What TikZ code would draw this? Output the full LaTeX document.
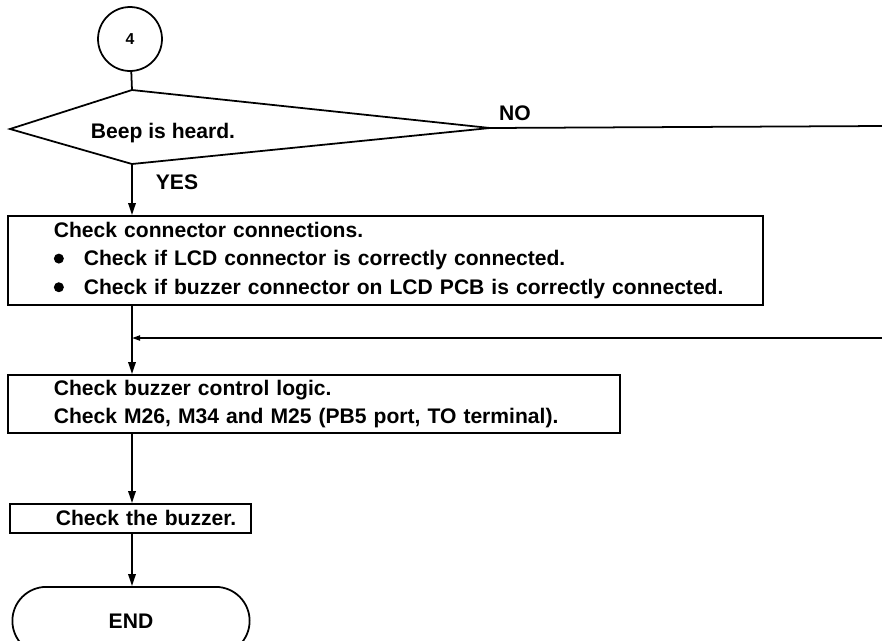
\documentclass[tikz,border=0pt]{standalone}
\usepackage{fontspec}
\setmainfont{Liberation Sans}
\usetikzlibrary{arrows.meta,shapes.misc}
\newcommand{\dotmark}{\makebox[0.6cm][l]{\raisebox{0.2ex}{\tikz\fill (0,0) circle (0.1cm);}}}
\newcommand{\lead}{\hspace*{0.67cm}}
\begin{document}
\begin{tikzpicture}[
        x=0.02cm, y=-0.02cm,
        every node/.style={font=\fontsize{12}{16.3}\selectfont\bfseries},
        link/.style={-{Triangle[length=0.24cm,width=0.15cm]}, line width=1pt},
        plain/.style={line width=1pt},
        stepbox/.style={draw, line width=1pt, rectangle, align=left, inner xsep=0.25cm, inner ysep=0pt, anchor=north west},
        label/.style={inner sep=1pt}
    ]
        \useasboundingbox (0,0) rectangle (882,640);

        % Connector and decision
        \node[draw, line width=1pt, circle, minimum size=1.28cm, inner sep=0pt] (c4) at (130,39) {\small\bfseries 4};
        \coordinate (dtop) at (132,90);
        \coordinate (dleft) at (10,129);
        \coordinate (dbot) at (132,164);
        \coordinate (dright) at (490,128);
        \draw[plain] (dtop) -- (dright) -- (dbot) -- (dleft) -- cycle;
        \node[label] (beep) at (163,133) {Beep is heard.};
        \coordinate (noend) at (882,126);
        \node[label] (no) at (515,113) {NO};
        \node[label] (yes) at (177,182) {YES};

        % Steps
        \node[stepbox, text width=14.6cm, minimum height=1.78cm] (b1) at (7,215)
            {\lead Check connector connections.\\
             \lead\dotmark Check if LCD connector is correctly connected.\\
             \lead\dotmark Check if buzzer connector on LCD PCB is correctly connected.};
        \coordinate (join) at (132,338);
        \coordinate (fbend) at (882,338);
        \node[stepbox, text width=11.74cm, minimum height=1.16cm] (b2) at (7,374)
            {\lead Check buzzer control logic.\\
             \lead Check M26, M34 and M25 (PB5 port, TO terminal).};
        \node[stepbox, text width=4.32cm, minimum height=0.58cm] (b3) at (9,503)
            {\lead Check the buzzer.};
        \node[draw, line width=1pt, rounded rectangle, minimum width=4.98cm, minimum height=1.36cm, anchor=north] (stop) at (131,586) {END};

        % Flow
        \draw[plain] (c4) -- (dtop);
        \draw[plain] (dright) -- (noend);
        \draw[link] (dbot) -- (dbot |- b1.north);
        \draw[plain] (b1.south -| join) -- (join);
        \draw[link] (join) -- (join |- b2.north);
        \draw[-{Triangle[length=0.16cm,width=0.1cm]}, line width=1pt] (fbend) -- (join);
        \draw[link] (b2.south -| join) -- (join |- b3.north);
        \draw[link] (b3.south -| join) -- (join |- stop.north);
    \end{tikzpicture}
\end{document}
